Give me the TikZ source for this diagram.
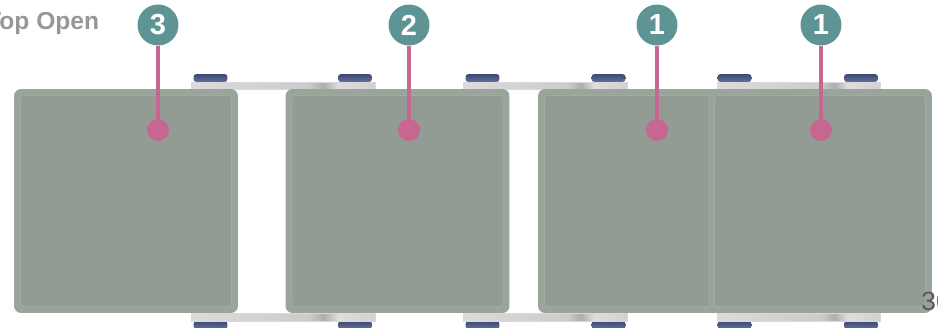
\documentclass[tikz,border=0pt]{standalone}
\usepackage{fontspec}
\setmainfont{Liberation Sans}
\usepackage{xcolor}
\definecolor{PanelEdge}{RGB}{153,164,154}
\definecolor{PanelFace}{RGB}{147,156,148}
\definecolor{PanelLine}{RGB}{160,170,161}
\definecolor{BadgeTeal}{RGB}{94,148,148}
\definecolor{LeadPink}{RGB}{200,102,146}
\definecolor{KnobBlue}{RGB}{62,74,118}
\definecolor{KnobPale}{RGB}{98,112,156}
\definecolor{LabelGrey}{RGB}{151,151,155}
\pgfdeclarehorizontalshading{hingeshade}{100bp}{color(0bp)=(black!14);color(25bp)=(black!14);color(45bp)=(black!18);color(57bp)=(black!20);color(61bp)=(black!32);color(65bp)=(black!13);color(75bp)=(black!18);color(100bp)=(black!18)}

\begin{document}
\begin{tikzpicture}[x=0.02cm,y=-0.02cm,
panel/.style={fill=PanelEdge,rounded corners=0.14cm,minimum width=4.48cm,minimum height=4.48cm,inner sep=0pt},
face/.style={fill=PanelFace,draw=PanelLine,line width=0.5pt,rounded corners=0.06cm,minimum width=4.22cm,minimum height=4.22cm,inner sep=0pt},
plate/.style={shading=hingeshade,draw=white!85!black,line width=0.2pt,minimum height=0.14cm,inner sep=0pt},
knob/.style={top color=KnobBlue,bottom color=KnobPale,rounded corners=0.06cm,minimum width=0.68cm,minimum height=0.16cm,inner sep=0pt},
badge/.style={circle,fill=BadgeTeal,minimum size=0.82cm,inner sep=0pt,text=white,font=\fontsize{16.5}{16.5}\selectfont\bfseries},
dot/.style={circle,fill=LeadPink,minimum size=0.44cm,inner sep=0pt},
lead/.style={draw=LeadPink,line width=1.9pt}
]
\useasboundingbox (0,0) rectangle (938,328);
% hinges, top row
\node[knob] (kt1) at (210.5,78) {}; \node[knob] (kt2) at (355,78) {};
\node[knob] (kt3) at (482.5,78) {}; \node[knob] (kt4) at (608.5,78) {};
\node[knob] (kt5) at (734.5,78) {}; \node[knob] (kt6) at (861,78) {};
\node[plate,minimum width=3.68cm] (ht1) at (283,85.5) {};
\node[plate,minimum width=3.28cm] (ht2) at (545,85.5) {};
\node[plate,minimum width=3.26cm] (ht3) at (798.5,85.5) {};
% hinges, bottom row
\node[knob] (kb1) at (210.5,325) {}; \node[knob] (kb2) at (355,325) {};
\node[knob] (kb3) at (482.5,325) {}; \node[knob] (kb4) at (608.5,325) {};
\node[knob] (kb5) at (734.5,325) {}; \node[knob] (kb6) at (861,325) {};
\node[plate,minimum width=3.68cm,minimum height=0.16cm] (hb1) at (283,317.5) {};
\node[plate,minimum width=3.28cm,minimum height=0.16cm] (hb2) at (545,317.5) {};
\node[plate,minimum width=3.26cm,minimum height=0.16cm] (hb3) at (798.5,317.5) {};
% panels
\node[panel] (pa) at (126,201) {}; \node[face] (fa) at (pa.center) {};
\node[panel] (pb) at (397.5,201) {}; \node[face] (fb) at (pb.center) {};
\node[panel] (pc) at (650,201) {}; \node[face] (fc) at (pc.center) {};
\node[panel] (pd) at (820,201) {}; \node[face] (fd) at (pd.center) {};
% callouts
\node[badge] (ba) at (158,25) {3}; \node[dot] (da) at (158,130) {};
\node[badge] (bb) at (409,25) {2}; \node[dot] (db) at (409,130) {};
\node[badge] (bc) at (657,25) {1}; \node[dot] (dc) at (657,130) {};
\node[badge] (bd) at (821,25) {1}; \node[dot] (dd) at (821,130) {};
\draw[lead] (ba)--(da); \draw[lead] (bb)--(db); \draw[lead] (bc)--(dc); \draw[lead] (bd)--(dd);
% labels
\node[anchor=base east,inner sep=0pt,text=LabelGrey,font=\fontsize{14}{14}\selectfont\bfseries] (title) at (99.5,30) {Top Open};
\node[anchor=base west,inner sep=0pt,text=black!65,font=\fontsize{15}{15}\selectfont] (pagenum) at (921,310) {30};
\end{tikzpicture}
\end{document}
